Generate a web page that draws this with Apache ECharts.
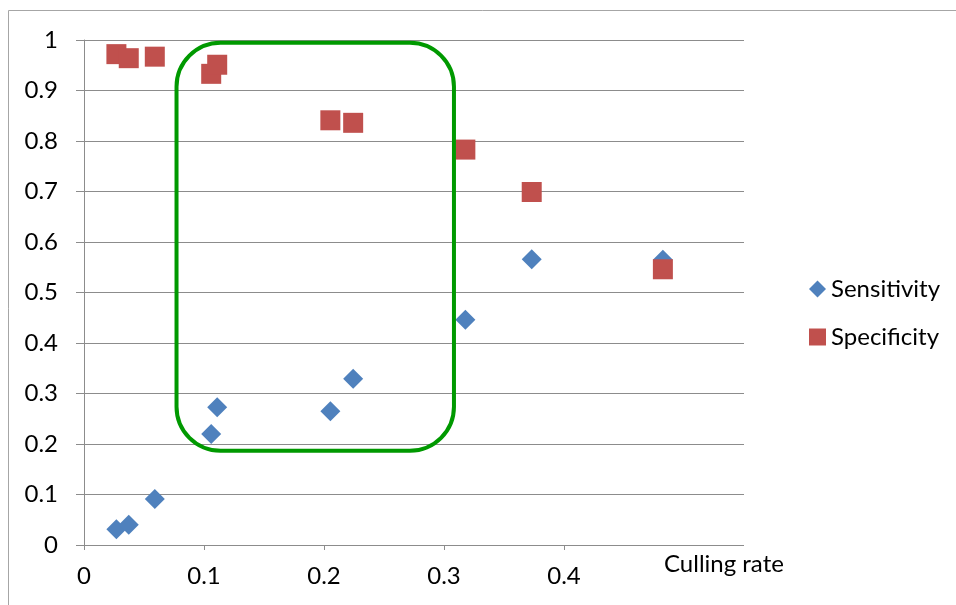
<!DOCTYPE html>
<html>
<head>
<meta charset="utf-8">
<script src="https://cdn.jsdelivr.net/npm/echarts@6/dist/echarts.min.js"></script>
<style>
  html, body { margin: 0; padding: 0; background: #fff; }
  #chart { width: 956px; height: 605px; }
</style>
</head>
<body>
<div id="chart"></div>
<script>
// Culling rate vs. sensitivity / specificity of the screening rule
const cullingRate = [0.027, 0.0373, 0.059, 0.106, 0.111, 0.2053, 0.2243, 0.3178, 0.3731, 0.4824];
const sensitivity = [0.031, 0.040, 0.091, 0.220, 0.273, 0.265, 0.329, 0.446, 0.566, 0.565];
const specificity = [0.972, 0.964, 0.967, 0.933, 0.951, 0.841, 0.836, 0.783, 0.699, 0.546];

const xTicks = [0, 0.1, 0.2, 0.3, 0.4];
const xAxisLineEnd = 0.462;           // the bottom axis line stops short of the plot edge
const xName = 'Culling rate';
const seriesNames = ['Sensitivity', 'Specificity'];

// Highlighted region (in data units)
const highlight = { xMin: 0.0771, xMax: 0.3083, yMin: 0.1867, yMax: 0.9947 };

const FONT = 'Lato, "Open Sans", sans-serif';
const FONT_SIZE = 24;
const GRID_GRAY = '#8c8c8c';

const chart = echarts.init(document.getElementById('chart'), null, { renderer: 'canvas' });

const pairs = arr => cullingRate.map((x, i) => [x, arr[i]]);

chart.setOption({
  animation: false,
  backgroundColor: '#ffffff',
  textStyle: { fontFamily: FONT, color: '#000' },
  grid: { left: 84, top: 40, width: 660, height: 505 },
  title: {
    text: xName,
    left: 659, top: 547,
    textStyle: { fontFamily: FONT, fontSize: FONT_SIZE, fontWeight: 'normal', color: '#000' }
  },
  legend: {
    orient: 'vertical',
    left: 804, top: 272,
    itemWidth: 17, itemHeight: 17, itemGap: 24,
    textStyle: { fontFamily: FONT, fontSize: FONT_SIZE, color: '#000' },
    data: [
      { name: seriesNames[0], icon: 'diamond' },
      { name: seriesNames[1], icon: 'rect' }
    ]
  },
  xAxis: {
    type: 'value', min: 0, max: 0.55, interval: 0.1,
    axisLine: { show: false },
    axisTick: { show: true, length: 5, customValues: xTicks, lineStyle: { color: GRID_GRAY, width: 1 } },
    axisLabel: { customValues: xTicks, margin: 19, fontSize: FONT_SIZE, fontFamily: FONT, color: '#000' },
    splitLine: { show: false }
  },
  yAxis: {
    type: 'value', min: 0, max: 1, interval: 0.1,
    axisLine: { show: true, lineStyle: { color: GRID_GRAY, width: 1 } },
    axisTick: { show: true, length: 8, lineStyle: { color: GRID_GRAY, width: 1 } },
    axisLabel: { margin: 26, fontSize: FONT_SIZE, fontFamily: FONT, color: '#000' },
    splitLine: { show: true, lineStyle: { color: GRID_GRAY, width: 1 } }
  },
  series: [
    {
      name: seriesNames[0], type: 'scatter',
      symbol: 'diamond', symbolSize: 20,
      itemStyle: { color: '#4f81bd', opacity: 1 },
      data: pairs(sensitivity),
      markLine: {
        silent: true, symbol: 'none', label: { show: false },
        lineStyle: { color: GRID_GRAY, width: 1, type: 'solid' },
        data: [[{ coord: [0, 0] }, { coord: [xAxisLineEnd, 0] }]]
      }
    },
    {
      name: seriesNames[1], type: 'scatter',
      symbol: 'rect', symbolSize: 20,
      itemStyle: { color: '#c0504d', opacity: 1 },
      data: pairs(specificity)
    }
  ]
});

// Rounded green frame around the middle band + outer chart border
const p1 = chart.convertToPixel({ gridIndex: 0 }, [highlight.xMin, highlight.yMax]);
const p2 = chart.convertToPixel({ gridIndex: 0 }, [highlight.xMax, highlight.yMin]);
chart.setOption({
  graphic: [
    {
      type: 'rect', z: 100, silent: true,
      shape: { x: 8.5, y: 10.5, width: 1000, height: 700 },
      style: { fill: 'none', stroke: '#a6a6a6', lineWidth: 1 }
    },
    {
      type: 'rect', z: 100, silent: true,
      shape: { x: p1[0], y: p1[1], width: p2[0] - p1[0], height: p2[1] - p1[1], r: 44 },
      style: { fill: 'none', stroke: '#009900', lineWidth: 4 }
    }
  ]
});
</script>
</body>
</html>
